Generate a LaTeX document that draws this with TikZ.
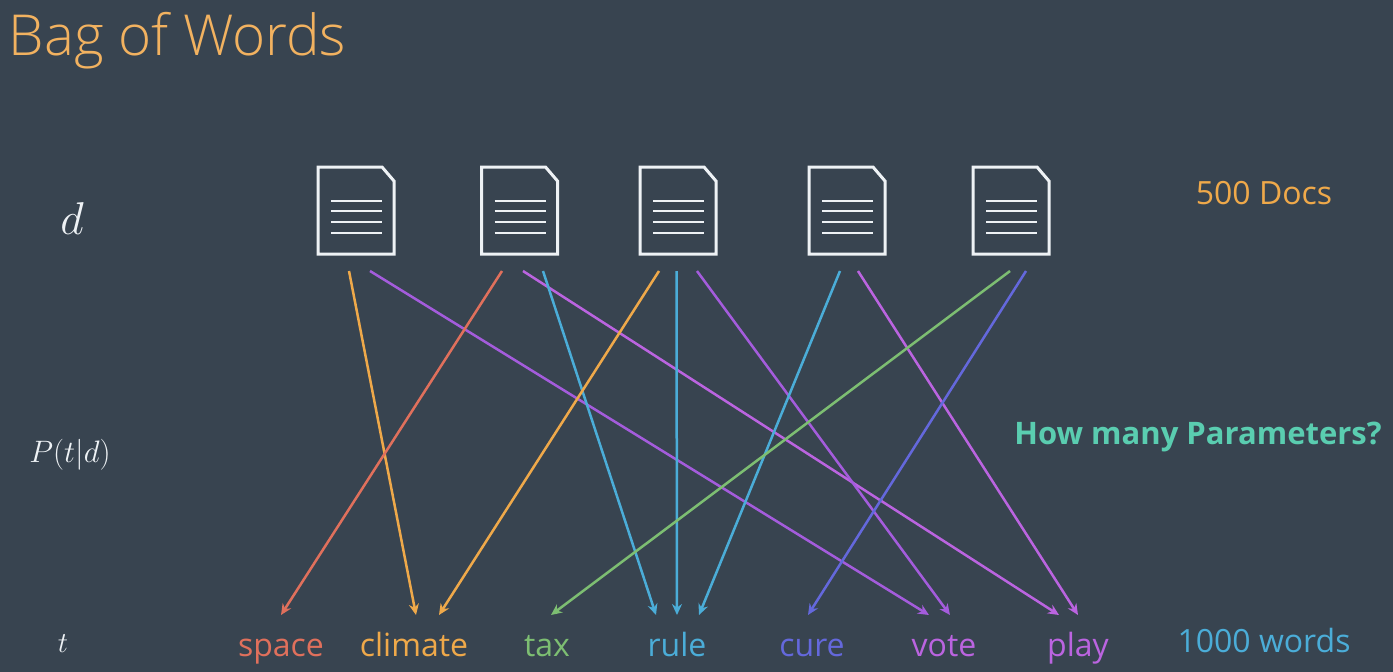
\documentclass[tikz,border=0pt]{standalone}
\usepackage{fix-cm}
\usepackage{fontspec}
\setmainfont{Open Sans}
\usetikzlibrary{arrows.meta,calc}
\definecolor{bg}{HTML}{384450}
\definecolor{cTitle}{HTML}{F2B260}
\definecolor{cRed}{HTML}{E0705C}
\definecolor{cOrange}{HTML}{EFA94A}
\definecolor{cGreen}{HTML}{7DBE72}
\definecolor{cBlue}{HTML}{4BADD8}
\definecolor{cIndigo}{HTML}{6468DC}
\definecolor{cPurple}{HTML}{A45CDC}
\definecolor{cViolet}{HTML}{BB64E0}
\definecolor{cTeal}{HTML}{5ACDB0}
\definecolor{cPaper}{HTML}{EEF2F5}
\tikzset{
  x=1pt,y=-1pt,
  docbox/.style={minimum width=76pt,minimum height=87pt,inner sep=0pt,outer sep=0pt},
  word/.style={font=\fontsize{32}{36}\selectfont,anchor=base,inner sep=0pt},
  side/.style={font=\fontsize{32}{36}\selectfont,anchor=base,inner sep=0pt},
  mathlab/.style={text=cPaper,anchor=base,inner sep=0pt},
  link/.style={line width=2.5pt,-{Stealth[length=11pt,width=10pt]}},
}
\newcommand{\docicon}[2]{%
  \node[docbox] (#1) at (#2,210.5) {};
  \draw[cPaper,line width=3pt,line join=miter]
    (#1.north west) -- ($(#1.north east)+(-12,0)$) -- ($(#1.north east)+(0,14)$)
    -- (#1.south east) -- (#1.south west) -- cycle;
  \foreach \yy in {201,211,222,233}
    \draw[cPaper,line width=2.8pt] (#2-25,\yy) -- (#2+26,\yy);
}
\begin{document}
\begin{tikzpicture}
\useasboundingbox (0,0) rectangle (1393,672);
\fill[bg] (0,0) rectangle (1393,672);
\node[anchor=base west,inner sep=0pt,text=cTitle,font=\fontspec{Open Sans Light}\fontsize{56.5}{62}\selectfont] (title) at (8.5,55) {Bag of Words};
\docicon{d1}{356}
\docicon{d2}{519.5}
\docicon{d3}{678}
\docicon{d4}{847}
\docicon{d5}{1011}
\node[mathlab,font=\fontsize{46}{50}\selectfont] (ld) at (72,234) {$d$};
\node[mathlab,font=\fontsize{31}{36}\selectfont] (lp) at (70,462) {$P(t|d)$};
\node[mathlab,font=\fontsize{29}{34}\selectfont] (lt) at (63,652) {$t$};
\node[side,text=cOrange] (docs) at (1264,204) {500 Docs};
\node[side,text=cTeal,font=\bfseries\fontsize{31}{36}\selectfont] (q) at (1198,444) {How many Parameters?};
\node[side,text=cBlue] (words) at (1264,652) {1000 words};
\node[word,text=cRed] (space) at (281,656) {space};
\node[word,text=cOrange] (climate) at (414,656) {climate};
\node[word,text=cGreen] (tax) at (547,656) {tax};
\node[word,text=cBlue] (rule) at (677,656) {rule};
\node[word,text=cIndigo] (cure) at (812,656) {cure};
\node[word,text=cViolet] (vote) at (944,656) {vote};
\node[word,text=cViolet] (play) at (1078,656) {play};
% start points below the documents, end points above the words
\foreach \n/\dn/\dx in {a/d1/-7,b/d1/14,c/d2/-17.5,e/d2/3.5,f/d2/23.5,g/d3/-19,h/d3/-1.5,i/d3/19,j/d4/-7,k/d4/11,l/d5/-1,m/d5/15}
  \coordinate (s\n) at ($(\dn.south)+(\dx,17)$);
\coordinate (ta) at (416,615);
\coordinate (tb) at (929,615);
\coordinate (tc) at (281,615);
\coordinate (te) at (1059,615);
\coordinate (tf) at (656,615);
\coordinate (tg) at (439,615);
\coordinate (th) at (677,615);
\coordinate (ti) at (950,615);
\coordinate (tj) at (699,615);
\coordinate (tk) at (1078,615);
\coordinate (tl) at (551,615);
\coordinate (tm) at (808,615);
\draw[link,cOrange] (sa) -- (ta);
\draw[link,cPurple] (sb) -- (tb);
\draw[link,cRed] (sc) -- (tc);
\draw[link,cViolet] (se) -- (te);
\draw[link,cBlue] (sf) -- (tf);
\draw[link,cOrange] (sg) -- (tg);
\draw[link,cBlue] (sh) -- (th);
\draw[link,cPurple] (si) -- (ti);
\draw[link,cBlue] (sj) -- (tj);
\draw[link,cViolet] (sk) -- (tk);
\draw[link,cGreen] (sl) -- (tl);
\draw[link,cIndigo] (sm) -- (tm);
\end{tikzpicture}
\end{document}
